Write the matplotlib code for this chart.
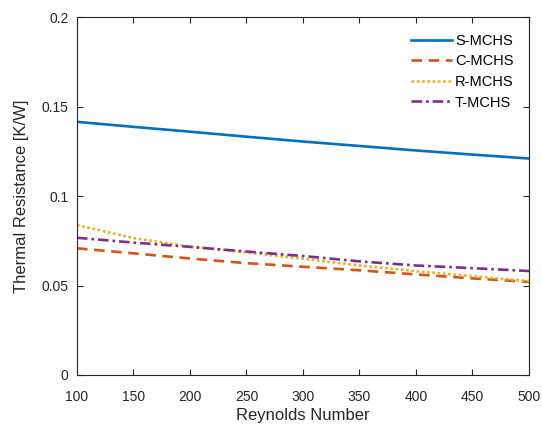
import matplotlib.pyplot as plt

plt.rcParams['font.family'] = ['Liberation Sans', 'DejaVu Sans']

reynolds = [100, 150, 200, 250, 300, 350, 400, 450, 500]
s_mchs = [0.1415, 0.1387, 0.1360, 0.1332, 0.1305, 0.1280, 0.1255, 0.1232, 0.1210]
c_mchs = [0.0708, 0.0680, 0.0651, 0.0625, 0.0605, 0.0585, 0.0562, 0.0540, 0.0520]
r_mchs = [0.0838, 0.0765, 0.0718, 0.0685, 0.0650, 0.0612, 0.0580, 0.0552, 0.0525]
t_mchs = [0.0767, 0.0740, 0.0716, 0.0690, 0.0665, 0.0635, 0.0612, 0.0597, 0.0581]

dark = '#262626'

fig = plt.figure(figsize=(5.42, 4.30), dpi=100)
ax = fig.add_axes([0.142, 0.128, 0.834, 0.832])

ax.plot(reynolds, s_mchs, color='#0072BD', lw=1.9, label='S-MCHS')
ax.plot(reynolds, c_mchs, color='#D95319', lw=1.9, dashes=(4, 2.5), label='C-MCHS')
ax.plot(reynolds, r_mchs, color='#EDB120', lw=1.9, dashes=(1, 1), label='R-MCHS')
ax.plot(reynolds, t_mchs, color='#7E2F8E', lw=1.9, dashes=(4, 1.5, 1, 1.5), label='T-MCHS')

ax.set_xlim(100, 500)
ax.set_ylim(0, 0.2)
ax.set_xticks([100, 150, 200, 250, 300, 350, 400, 450, 500])
ax.set_yticks([0, 0.05, 0.1, 0.15, 0.2])
ax.set_yticklabels(['0', '0.05', '0.1', '0.15', '0.2'])
ax.tick_params(direction='in', top=True, right=True, length=4, width=0.8,
               labelsize=10, colors=dark, labelcolor=dark)
ax.tick_params(axis='x', pad=11)
ax.tick_params(axis='y', pad=6)
for sp in ax.spines.values():
    sp.set_color(dark)
    sp.set_linewidth(0.8)

ax.set_xlabel('Reynolds Number', fontsize=12, color=dark, labelpad=3)
ax.set_ylabel('Thermal Resistance [K/W]', fontsize=12, color=dark, labelpad=9)

ax.legend(loc='upper right', frameon=False, fontsize=10.5, handlelength=2.8,
          handletextpad=0.2, labelspacing=0.45, bbox_to_anchor=(0.995, 0.99))

fig.savefig('out.png', dpi=100)
